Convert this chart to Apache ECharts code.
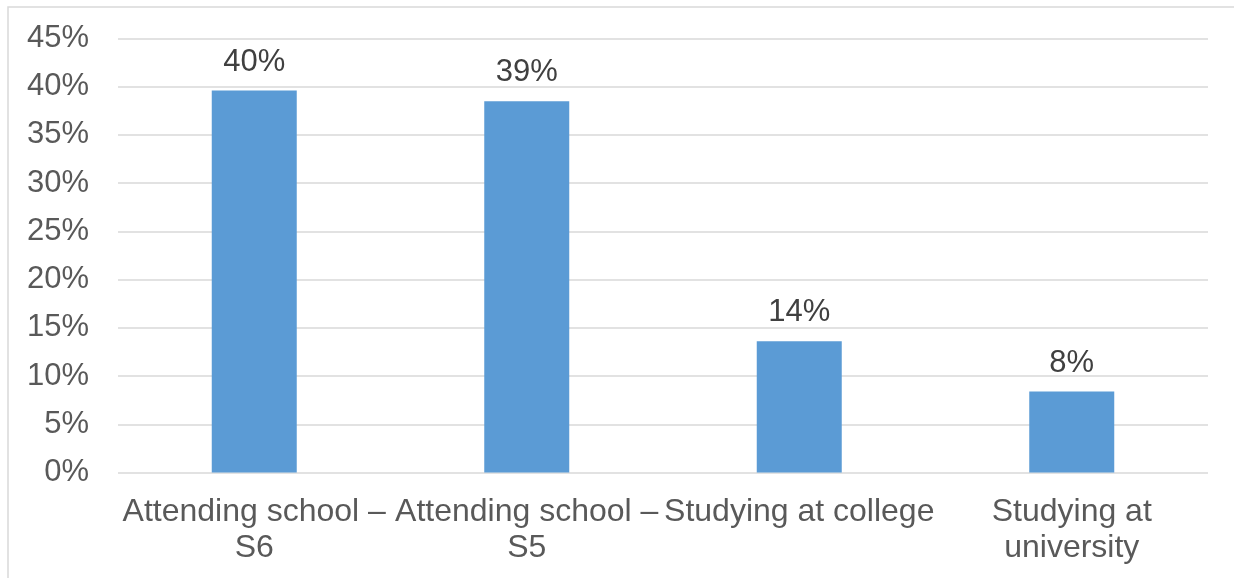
<!DOCTYPE html>
<html>
<head>
<meta charset="utf-8">
<script src="https://cdn.jsdelivr.net/npm/echarts@6/dist/echarts.min.js"></script>
<style>html,body{margin:0;padding:0;background:#fff}#c{width:1234px;height:578px}</style>
</head>
<body>
<div id="c"></div>
<script>
const categories = ["Attending school –\nS6", "Attending school –\nS5", "Studying at college", "Studying at\nuniversity"];
const values = [39.6, 38.5, 13.6, 8.4];
const yTicks = [0, 5, 10, 15, 20, 25, 30, 35, 40, 45];

const chart = echarts.init(document.getElementById('c'), null, {renderer: 'canvas'});
chart.setOption({
  animation: false,
  backgroundColor: '#fff',
  graphic: [{
    type: 'rect', silent: true,
    shape: {x: 8, y: 7, width: 1260, height: 620},
    style: {fill: 'none', stroke: '#D9D9D9', lineWidth: 1.5}
  }],
  grid: {left: 118, right: 26, top: 38.5, bottom: 105.5, containLabel: false},
  xAxis: {
    type: 'category',
    data: categories,
    axisLine: {show: false},
    axisTick: {show: false},
    axisLabel: {color: '#595959', fontSize: 32, fontFamily: 'Liberation Sans, Arial, sans-serif', lineHeight: 36, margin: 22, interval: 0}
  },
  yAxis: {
    type: 'value',
    min: yTicks[0], max: yTicks[yTicks.length - 1], interval: 5,
    axisLine: {show: false},
    axisTick: {show: false},
    splitLine: {lineStyle: {color: '#D9D9D9', width: 1.5}},
    axisLabel: {color: '#595959', fontSize: 31, fontFamily: 'Liberation Sans, Arial, sans-serif', margin: 29, formatter: v => v + '%'}
  },
  series: [{
    type: 'bar',
    data: values,
    barWidth: 85,
    itemStyle: {color: '#5B9BD5'},
    label: {
      show: true, position: 'top', distance: 13,
      color: '#404040', fontSize: 31, fontFamily: 'Liberation Sans, Arial, sans-serif',
      formatter: p => Math.round(p.value) + '%'
    }
  }]
});
</script>
</body>
</html>
